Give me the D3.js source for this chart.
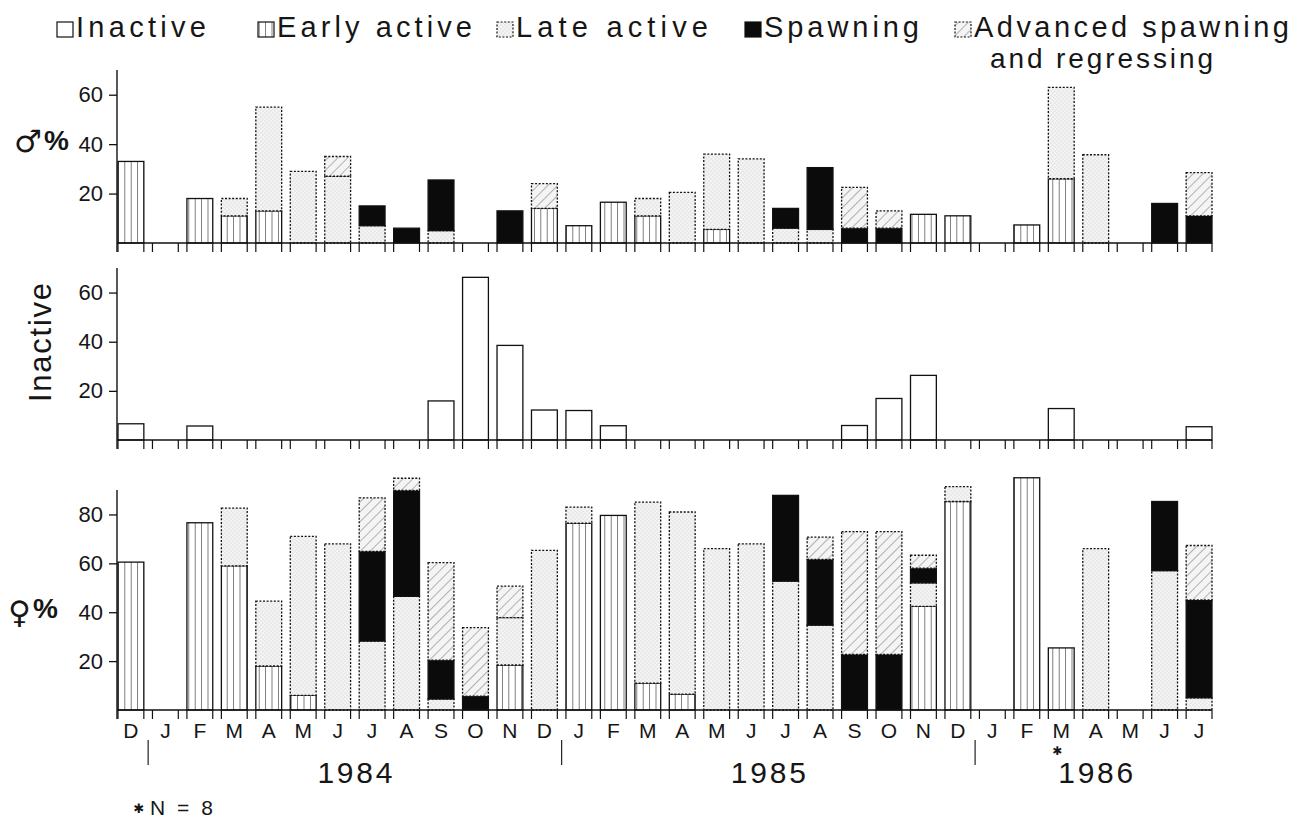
<!DOCTYPE html>
<html>
<head>
<meta charset="utf-8">
<script src="https://cdn.jsdelivr.net/npm/d3@7"></script>
<style>
body { margin: 0; background: #fff; }
text { font-family: "Liberation Sans", Arial, sans-serif; fill: #161616; }
</style>
</head>
<body>
<div id="graph_draw"></div>
<script>
// months Dec 1983 -> Jul 1986
var months = ["D","J","F","M","A","M","J","J","A","S","O","N","D","J","F","M","A","M","J","J","A","S","O","N","D","J","F","M","A","M","J","J"];
var years = ["1984", "1985", "1986"];

// males, % of each stage (stacked bottom -> top)
var maleEarly = [33,0,18,11,13,0,0,0,0,0,0,0,14,7,16.5,11,0,5.5,0,0,0,0,0,11.6,11,0,7.3,26,0,0,0,0];
var maleLate  = [0,0,0,7,42,29,27,7,0,5,0,0,0,0,0,7,20.5,30.5,34,6,5.5,0,0,0,0,0,0,37,35.7,0,0,0];
var maleSpawn = [0,0,0,0,0,0,0,8,6,20.5,0,13,0,0,0,0,0,0,0,8,25,6,6,0,0,0,0,0,0,0,16,11];
var maleAdv   = [0,0,0,0,0,0,8,0,0,0,0,0,10,0,0,0,0,0,0,0,0,16.5,7,0,0,0,0,0,0,0,0,17.5];

// females, inactive (middle panel)
var femInactive = [6.6,0,5.7,0,0,0,0,0,0,15.9,66.2,38.5,12.2,12,5.8,0,0,0,0,0,0,5.9,16.9,26.3,0,0,0,12.8,0,0,0,5.4];

// females, % of each stage
var femEarly = [60.5,0,76.6,59,18,6,0,0,0,0,0,18.4,0,76.4,79.6,11,6.5,0,0,0,0,0,0,42.4,85.3,0,95,25.4,0,0,0,0];
var femLate  = [0,0,0,23.6,26.5,65,68,28.2,46.5,4.5,0,19.4,65.3,6.6,0,74,74.5,66,68,52.7,34.7,0,0,9.6,6.1,0,0,0,66,0,57,5];
var femSpawn = [0,0,0,0,0,0,0,36.7,43.3,15.9,5.7,0,0,0,0,0,0,0,0,35.1,26.9,22.7,22.7,6,0,0,0,0,0,0,28.3,40];
var femAdv   = [0,0,0,0,0,0,0,21.9,5,39.9,28,12.9,0,0,0,0,0,0,0,0,9.1,50.3,50.3,5.3,0,0,0,0,0,0,0,22.3];

var legendNames = ["Inactive", "Early active", "Late active", "Spawning", "Advanced spawning"];
var legendKeys = ["inactive", "early", "late", "spawn", "adv"];

var width = 1308, height = 818;
var svg = d3.select("#graph_draw").append("svg")
    .attr("width", width)
    .attr("height", height);

// patterns for the stages
var defs = svg.append("defs");
var pe = defs.append("pattern").attr("id", "early").attr("patternUnits", "userSpaceOnUse")
    .attr("width", 6.4).attr("height", 10);
pe.append("rect").attr("width", 6.4).attr("height", 10).attr("fill", "#fff");
pe.append("line").attr("x1", 3.2).attr("x2", 3.2).attr("y1", 0).attr("y2", 10)
    .attr("stroke", "#6a6a6a").attr("stroke-width", 0.9);

var pl = defs.append("pattern").attr("id", "late").attr("patternUnits", "userSpaceOnUse")
    .attr("width", 4).attr("height", 4);
pl.append("rect").attr("width", 4).attr("height", 4).attr("fill", "#f3f3f3");
pl.append("circle").attr("cx", 1).attr("cy", 1).attr("r", 0.55).attr("fill", "#c8c8c8");
pl.append("circle").attr("cx", 3).attr("cy", 3).attr("r", 0.55).attr("fill", "#c8c8c8");

var pa = defs.append("pattern").attr("id", "adv").attr("patternUnits", "userSpaceOnUse")
    .attr("width", 7).attr("height", 7).attr("patternTransform", "rotate(45)");
pa.append("rect").attr("width", 7).attr("height", 7).attr("fill", "#f4f4f4");
pa.append("line").attr("x1", 0).attr("x2", 0).attr("y1", 0).attr("y2", 7)
    .attr("stroke", "#7a7a7a").attr("stroke-width", 1.1);

var styles = {
    inactive: {fill: "#fff", dash: null},
    early: {fill: "url(#early)", dash: null},
    late: {fill: "url(#late)", dash: "2,1.6"},
    spawn: {fill: "#0b0b0b", dash: null},
    adv: {fill: "url(#adv)", dash: "2,1.6"}
};

// shared x scale
var x = d3.scaleBand().domain(d3.range(months.length))
    .range([118, 1212]).paddingInner(0.25).paddingOuter(0);
var bw = x.bandwidth();

function draw_panel(top, base, max, ticks, rows, keys){
    var y = d3.scaleLinear().domain([0, max]).range([base, top]);
    var g = svg.append("g");

    var stacked = d3.stack().keys(keys)(rows);
    stacked.forEach(function(layer){
        var st = styles[layer.key];
        g.selectAll(null).data(layer.filter(function(d){ return d[1] - d[0] > 0; }))
            .enter().append("rect")
            .attr("x", function(d){ return x(d.data.i); })
            .attr("y", function(d){ return y(d[1]); })
            .attr("width", bw)
            .attr("height", function(d){ return y(d[0]) - y(d[1]); })
            .attr("fill", st.fill)
            .attr("stroke", "#111")
            .attr("stroke-width", 1.3)
            .attr("stroke-dasharray", st.dash);
    });

    // y axis
    var ax = g.append("g").attr("transform", "translate(117,0)")
        .call(d3.axisLeft(y).tickValues(ticks).tickSize(8).tickSizeOuter(0).tickPadding(6));
    ax.select(".domain").remove();
    ax.selectAll("line").attr("stroke", "#111").attr("stroke-width", 1.3);
    ax.selectAll("text").style("font-size", "22px").attr("fill", "#161616")
        .style("font-family", "'Liberation Sans', Arial, sans-serif");
    g.append("line").attr("x1", 117).attr("x2", 117).attr("y1", top).attr("y2", base + 9)
        .attr("stroke", "#111").attr("stroke-width", 1.4);

    // baseline with a tick at each bar edge
    g.append("line").attr("x1", 117).attr("x2", 1212).attr("y1", base).attr("y2", base)
        .attr("stroke", "#111").attr("stroke-width", 1.4);
    var edges = [];
    months.forEach(function(m, i){ edges.push(x(i)); edges.push(x(i) + bw); });
    g.selectAll(null).data(edges).enter().append("line")
        .attr("x1", function(d){ return d; }).attr("x2", function(d){ return d; })
        .attr("y1", base).attr("y2", base + 9)
        .attr("stroke", "#111").attr("stroke-width", 1.2);
    return y;
}

var maleRows = months.map(function(m, i){
    return {i: i, early: maleEarly[i], late: maleLate[i], spawn: maleSpawn[i], adv: maleAdv[i]};
});
var inactRows = months.map(function(m, i){ return {i: i, inactive: femInactive[i]}; });
var femRows = months.map(function(m, i){
    return {i: i, early: femEarly[i], late: femLate[i], spawn: femSpawn[i], adv: femAdv[i]};
});

draw_panel(70, 243, 70, [20, 40, 60], maleRows, ["early", "late", "spawn", "adv"]);
draw_panel(268, 440, 70, [20, 40, 60], inactRows, ["inactive"]);
draw_panel(490, 710, 90, [20, 40, 60, 80], femRows, ["early", "late", "spawn", "adv"]);

// panel labels
svg.append("text").attr("x", 14).attr("y", 152).style("font-family", "'DejaVu Sans'")
    .style("font-size", "31px").attr("fill", "#3a3a3a").text("\u2642");
svg.append("text").attr("x", 44).attr("y", 150).style("font-size", "28px")
    .style("font-weight", "bold").text("%");
svg.append("text").attr("transform", "translate(51,342.5) rotate(-90)")
    .attr("text-anchor", "middle").style("font-size", "31px")
    .attr("textLength", 119).attr("lengthAdjust", "spacing").text("Inactive");
svg.append("text").attr("x", 8).attr("y", 623).style("font-family", "'DejaVu Sans'")
    .style("font-size", "31px").attr("fill", "#3a3a3a").text("\u2640");
svg.append("text").attr("x", 33).attr("y", 618).style("font-size", "28px")
    .style("font-weight", "bold").text("%");

// month labels
svg.selectAll(null).data(months).enter().append("text")
    .attr("x", function(d, i){ return x(i) + bw / 2; })
    .attr("y", 738)
    .attr("text-anchor", "middle")
    .style("font-size", "21px")
    .text(function(d){ return d; });

// year separators and labels
var gap = x.step() - bw;
[1, 13, 25].forEach(function(i){
    var xs = x(i) - gap / 2;
    svg.append("line").attr("x1", xs).attr("x2", xs).attr("y1", 740).attr("y2", 765)
        .attr("stroke", "#222").attr("stroke-width", 1.2);
});
var yearSpan = [[1, 12], [13, 24], [25, 31]];
years.forEach(function(yr, k){
    var cx = (x(yearSpan[k][0]) + x(yearSpan[k][1]) + bw) / 2;
    svg.append("text").attr("x", cx).attr("y", 783).attr("text-anchor", "middle")
        .style("font-size", "30px").attr("textLength", 75).attr("lengthAdjust", "spacing").text(yr);
});
// asterisk over March 1986 (small sample)
svg.append("text").attr("x", x(27) + bw / 2 - 4).attr("y", 755).attr("text-anchor", "middle")
    .style("font-family", "'DejaVu Sans'").style("font-size", "12px").text("\u2731");
svg.append("text").attr("x", 139).attr("y", 813).attr("text-anchor", "middle")
    .style("font-family", "'DejaVu Sans'").style("font-size", "13px").text("\u2731");
svg.append("text").attr("x", 150).attr("y", 815).style("font-size", "21px")
    .attr("textLength", 63).attr("lengthAdjust", "spacing").text("N = 8");

// legend
var legX = [57, 258, 497, 745, 955];
var legW = [130, 195, 192, 155, 315];
legendKeys.forEach(function(k, j){
    svg.append("rect").attr("x", legX[j]).attr("y", 22).attr("width", 16).attr("height", 15)
        .attr("fill", styles[k].fill).attr("stroke", "#111").attr("stroke-width", 1.2)
        .attr("stroke-dasharray", styles[k].dash);
    svg.append("text").attr("x", legX[j] + 19).attr("y", 37).style("font-size", "29px")
        .attr("textLength", legW[j]).attr("lengthAdjust", "spacing").text(legendNames[j]);
});
svg.append("text").attr("x", 990).attr("y", 68).style("font-size", "28px")
    .attr("textLength", 223).attr("lengthAdjust", "spacing").text("and regressing");
</script>
</body>
</html>
